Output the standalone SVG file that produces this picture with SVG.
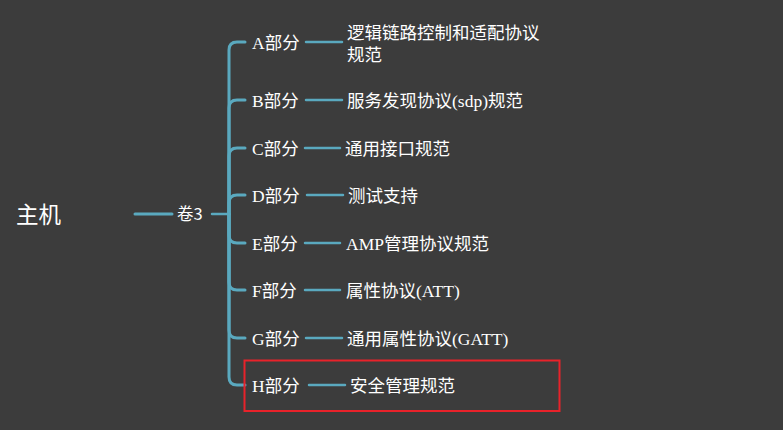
<svg xmlns="http://www.w3.org/2000/svg" width="783" height="430" viewBox="0 0 783 430">
<style>
.bg{fill:#3c3c3c}
.ln{fill:none;stroke:#5aa9bf;stroke-width:3;stroke-linecap:round}
.lt{fill:none;stroke:#5aa9bf;stroke-width:2.5;stroke-linecap:round}
.root{font-family:"Noto Sans CJK SC","Noto Sans",sans-serif;font-size:22.5px;fill:#ffffff}
.mid{font-family:"Noto Sans CJK SC","Noto Sans",sans-serif;font-size:16.5px;fill:#ffffff}
.t{font-family:"Liberation Serif","Noto Sans CJK SC",serif;font-size:17.5px;fill:#ffffff}
</style>
<rect class="bg" x="0" y="0" width="783" height="430"/>
<g id="connectors">
<path class="ln" d="M135,214 H172"/>
<path class="lt" d="M212,214 H229"/>
<path class="ln" d="M229,214 V50 Q229,42 237,42 H245"/>
<path class="ln" d="M229,214 V108 Q229,100 237,100 H245"/>
<path class="ln" d="M229,214 V156 Q229,148 237,148 H245"/>
<path class="ln" d="M229,214 V203 Q229,195 237,195 H245"/>
<path class="ln" d="M229,214 V235 Q229,243 237,243 H245"/>
<path class="ln" d="M229,214 V282 Q229,290 237,290 H245"/>
<path class="ln" d="M229,214 V330 Q229,338 237,338 H245"/>
<path class="ln" d="M229,214 V377 Q229,385 237,385 H245"/>
<path class="lt" d="M306,42 H342"/>
<path class="lt" d="M306,100 H342"/>
<path class="lt" d="M305,148 H340"/>
<path class="lt" d="M307,195 H343"/>
<path class="lt" d="M305,243 H340"/>
<path class="lt" d="M305,290 H340"/>
<path class="lt" d="M306,338 H342"/>
<path class="lt" d="M309,385 H345"/>
</g>
<g id="root"><text class="root" x="16" y="223">主机</text></g>
<g id="vol3"><text class="mid" x="177" y="220">卷3</text></g>
<g id="partA"><text class="t" x="252" y="48.5">A部分</text></g>
<g id="partB"><text class="t" x="252" y="106.5">B部分</text></g>
<g id="partC"><text class="t" x="252" y="154.5">C部分</text></g>
<g id="partD"><text class="t" x="252" y="201.5">D部分</text></g>
<g id="partE"><text class="t" x="252" y="249.5">E部分</text></g>
<g id="partF"><text class="t" x="252" y="296.5">F部分</text></g>
<g id="partG"><text class="t" x="252" y="344.5">G部分</text></g>
<g id="partH"><text class="t" x="252" y="391.5">H部分</text></g>
<g id="descA"><text class="t" x="347" y="38.5">逻辑链路控制和适配协议</text><text class="t" x="347" y="60.5">规范</text></g>
<g id="descB"><text class="t" x="347" y="106.5">服务发现协议(sdp)规范</text></g>
<g id="descC"><text class="t" x="345" y="154.5">通用接口规范</text></g>
<g id="descD"><text class="t" x="348" y="201.5">测试支持</text></g>
<g id="descE"><text class="t" x="346" y="249.5">AMP管理协议规范</text></g>
<g id="descF"><text class="t" x="346" y="296.5">属性协议(ATT)</text></g>
<g id="descG"><text class="t" x="347" y="344.5">通用属性协议(GATT)</text></g>
<g id="descH"><text class="t" x="350" y="391.5">安全管理规范</text></g>
<rect x="244.5" y="360.5" width="315" height="50.5" fill="none" stroke="#e8222a" stroke-width="2"/>
</svg>
